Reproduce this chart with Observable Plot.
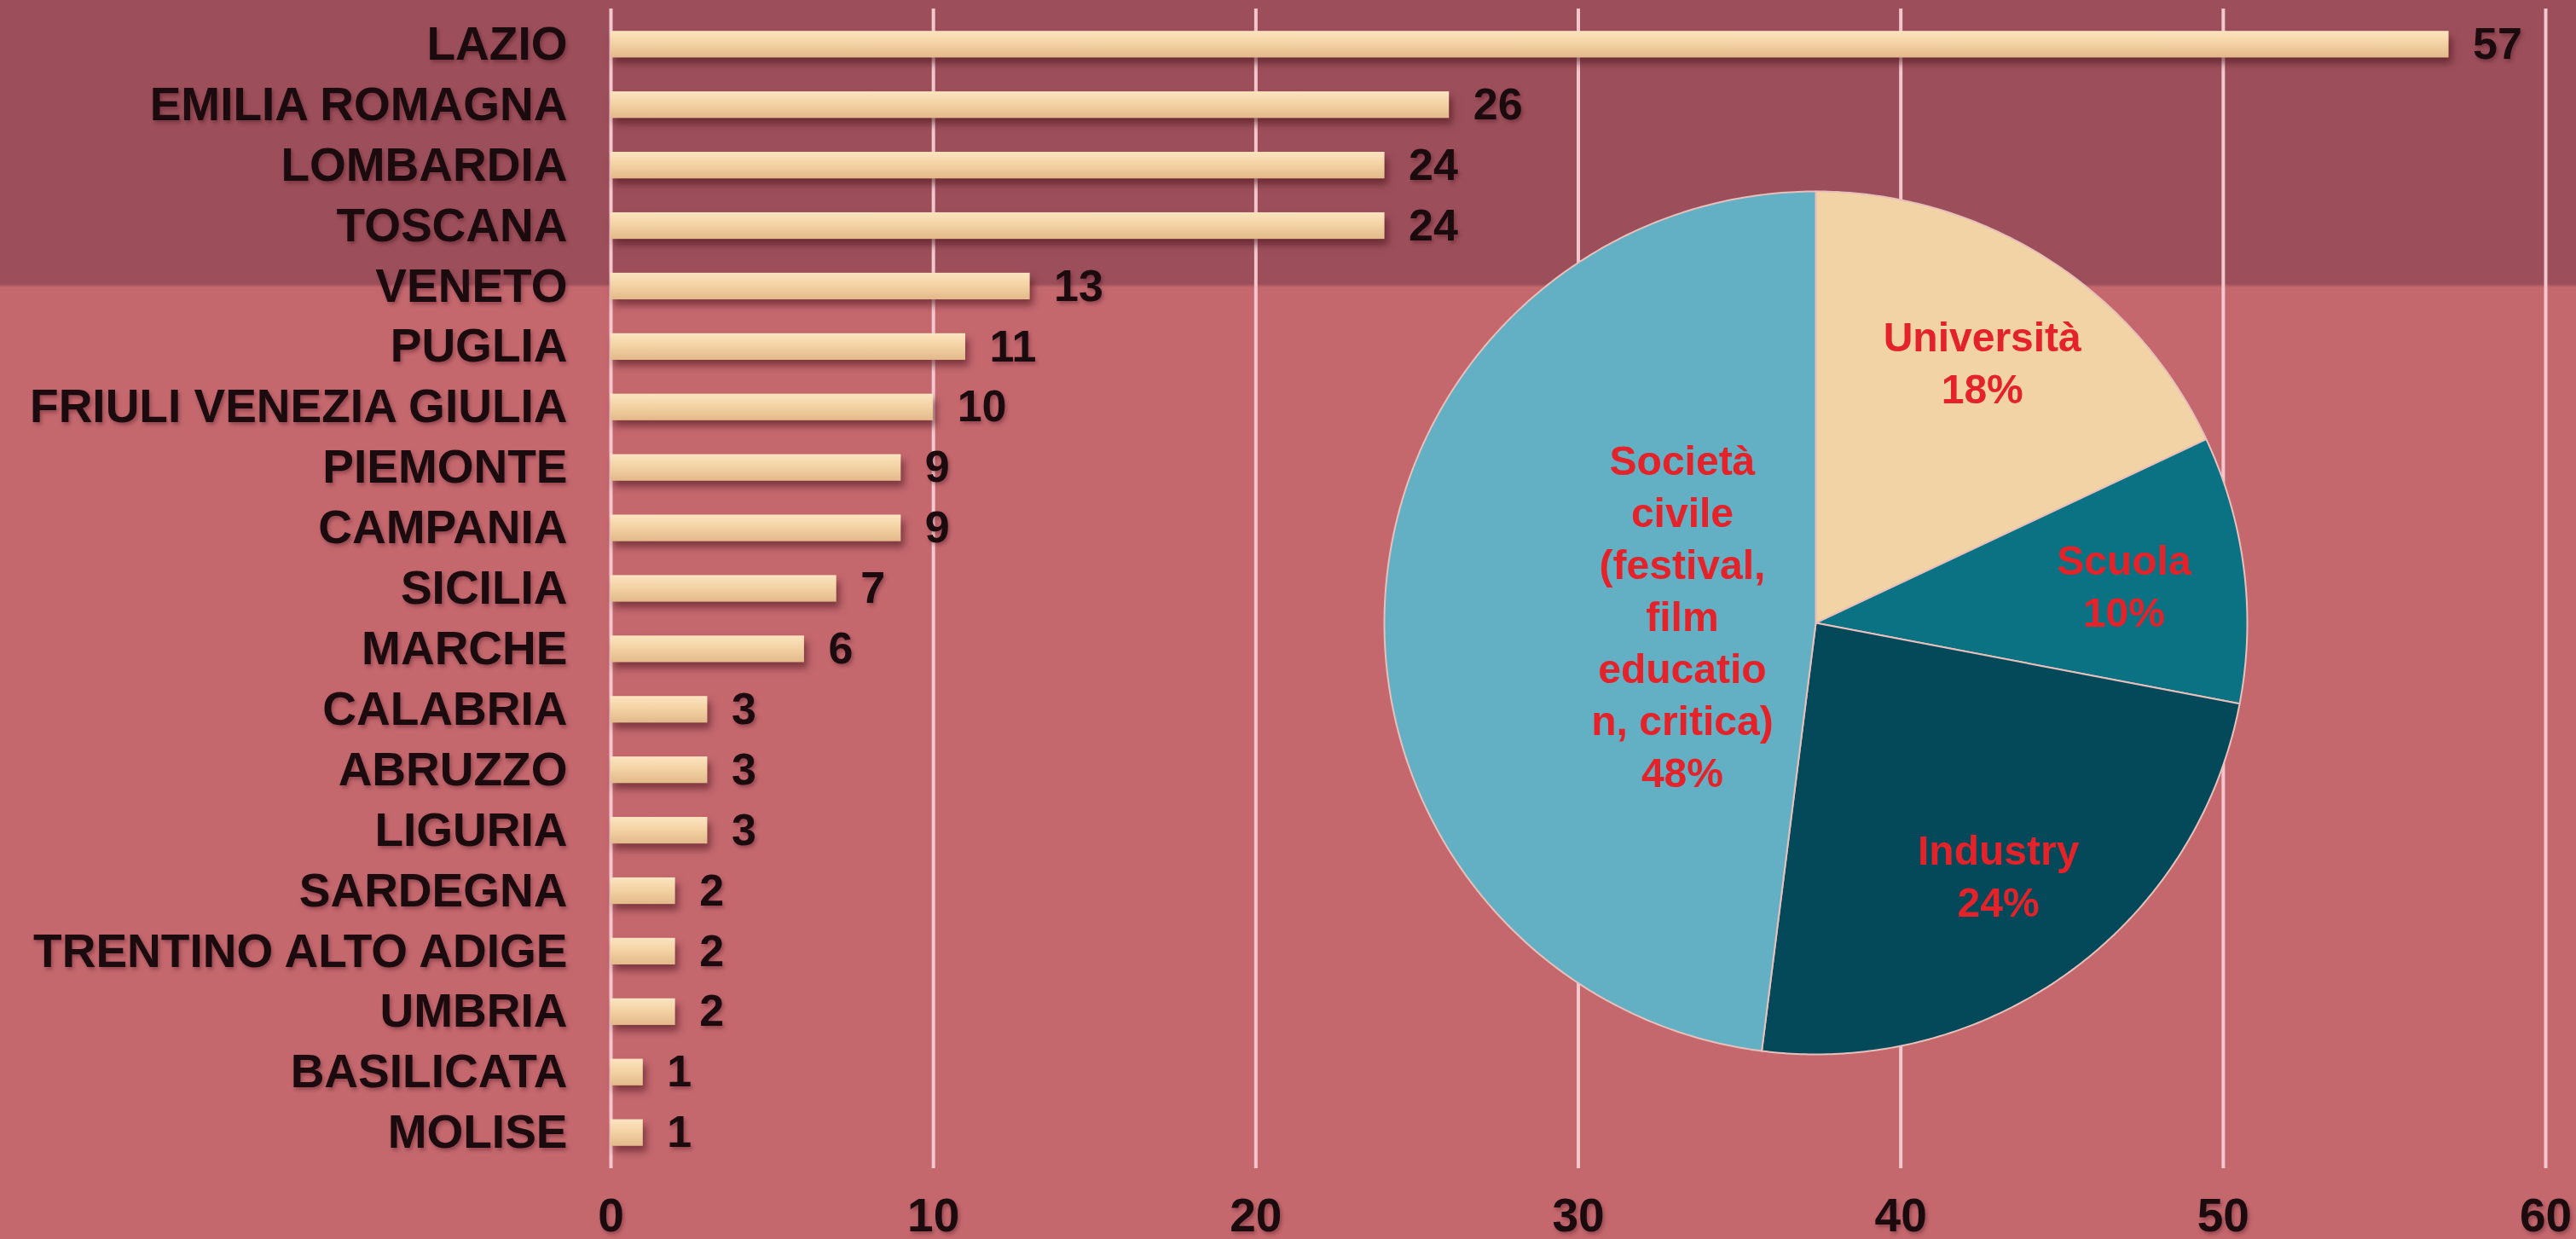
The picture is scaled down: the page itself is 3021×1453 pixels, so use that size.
<!DOCTYPE html>
<html><head><meta charset="utf-8">
<script src="https://cdn.jsdelivr.net/npm/d3@7"></script>
<script src="https://cdn.jsdelivr.net/npm/@observablehq/plot@0.6"></script>
<style>
html,body{margin:0;padding:0;}
body{width:3021px;height:1453px;position:relative;overflow:hidden;
  background:linear-gradient(to bottom,#9c4f5a 0px,#9c4f5a 333px,#c4686e 337px,#c4686e 100%);
  font-family:"Liberation Sans",Arial,sans-serif;}
#bars{position:absolute;left:0;top:0;}
#pie{position:absolute;left:1615px;top:216px;}
</style></head><body>
<div id="bars"></div><div id="pie"></div>
<script>
// ---- data ----
const regions = ["LAZIO","EMILIA ROMAGNA","LOMBARDIA","TOSCANA","VENETO","PUGLIA","FRIULI VENEZIA GIULIA","PIEMONTE","CAMPANIA","SICILIA","MARCHE","CALABRIA","ABRUZZO","LIGURIA","SARDEGNA","TRENTINO ALTO ADIGE","UMBRIA","BASILICATA","MOLISE"];
const counts = [57,26,24,24,13,11,10,9,9,7,6,3,3,3,2,2,2,1,1];
const xTicks = [0,10,20,30,40,50,60];
const sectors = ["Università","Scuola","Industry","Società civile"];
const sectorLabelNames = ["Università","Scuola","Industry","Società\ncivile\n(festival,\nfilm\neducatio\nn, critica)"];
const sectorShares = [18,10,24,48];
const sectorColors = ["#f2d3a6","#0b7284","#03495a","#63b0c4"];

// ---- bar chart ----
const barData = regions.map((r,i)=>({region:r, value:counts[i]}));
const bars = Plot.plot({
  width:3021, height:1453,
  marginLeft:716, marginRight:36, marginTop:10, marginBottom:83,
  style:{background:"transparent", fontSize:"55px", fontFamily:"'Liberation Sans', Arial, sans-serif", fontWeight:"bold", color:"#1b0b0e", overflow:"visible"},
  x:{domain:[0,60], ticks:xTicks, tickSize:0, tickPadding:34, label:null, tickFormat:d=>String(d)},
  y:{domain:regions, tickSize:0, tickPadding:51, label:null, paddingInner:0.56, paddingOuter:0.37, round:false},
  marks:[
    Plot.ruleX(xTicks,{stroke:"#f3c7cd", strokeWidth:4}),
    Plot.barX(barData,{x:"value", y:"region", fill:"#f4d3a5"}),
    Plot.text(barData,{x:"value", y:"region", text:d=>String(d.value), textAnchor:"start", dx:28, fontSize:52, fontWeight:"bold", fill:"#1b0b0e"})
  ]
});
document.getElementById("bars").appendChild(bars);
{
  const svg = d3.select(bars);
  const defs = svg.insert("defs",":first-child");
  const g = defs.append("linearGradient").attr("id","barGrad").attr("x1",0).attr("x2",0).attr("y1",0).attr("y2",1);
  g.append("stop").attr("offset","0%").attr("stop-color","#fbe4c0");
  g.append("stop").attr("offset","45%").attr("stop-color","#f4d3a5");
  g.append("stop").attr("offset","100%").attr("stop-color","#e2b98a");
  svg.selectAll('g[aria-label="bar"] rect').attr("fill","url(#barGrad)");
  svg.selectAll('g[aria-label="bar"]').style("filter","drop-shadow(4px 7px 4px rgba(70,15,25,0.55))");
  svg.selectAll('g[aria-label="text"], g[aria-label="y-axis tick label"], g[aria-label="x-axis tick label"], g[aria-label="y-axis"], g[aria-label="x-axis"]').style("filter","drop-shadow(2px 3px 2px rgba(60,10,20,0.35))");
}

// ---- pie chart ----
const arcs = d3.pie().sort(null).value(d=>d)(sectorShares);
const piePts = [];
const pieLabels = [];
arcs.forEach((a,i)=>{
  const n = Math.max(2, Math.ceil((a.endAngle-a.startAngle)/0.01));
  piePts.push({s:sectors[i], x:0, y:0});
  for (let k=0;k<=n;k++){
    const t = a.startAngle + (a.endAngle-a.startAngle)*k/n;
    piePts.push({s:sectors[i], x:Math.sin(t), y:Math.cos(t)});
  }
  piePts.push({s:sectors[i], x:0, y:0});
  const mid = (a.startAngle+a.endAngle)/2;
  const rf = sectorShares[i] >= 40 ? 0.31 : 0.72;
  pieLabels.push({x:rf*Math.sin(mid), y:rf*Math.cos(mid), label:`${sectorLabelNames[i]}\n${sectorShares[i]}%`});
});
const R = 506, pad = 8;
const pie = Plot.plot({
  width:2*R+2*pad, height:2*R+2*pad, margin:pad,
  x:{domain:[-1,1], axis:null}, y:{domain:[-1,1], axis:null},
  color:{domain:sectors, range:sectorColors},
  style:{background:"transparent", overflow:"visible", fontFamily:"'Liberation Sans', Arial, sans-serif"},
  marks:[
    Plot.line(piePts,{x:"x", y:"y", z:"s", fill:"s", stroke:"#e8c0bb", strokeWidth:2, curve:"linear"}),
    Plot.text(pieLabels,{x:"x", y:"y", text:"label", fill:"#e3222a", fontSize:48, fontWeight:"bold", lineHeight:1.27})
  ]
});
document.getElementById("pie").appendChild(pie);
</script>
</body></html>
